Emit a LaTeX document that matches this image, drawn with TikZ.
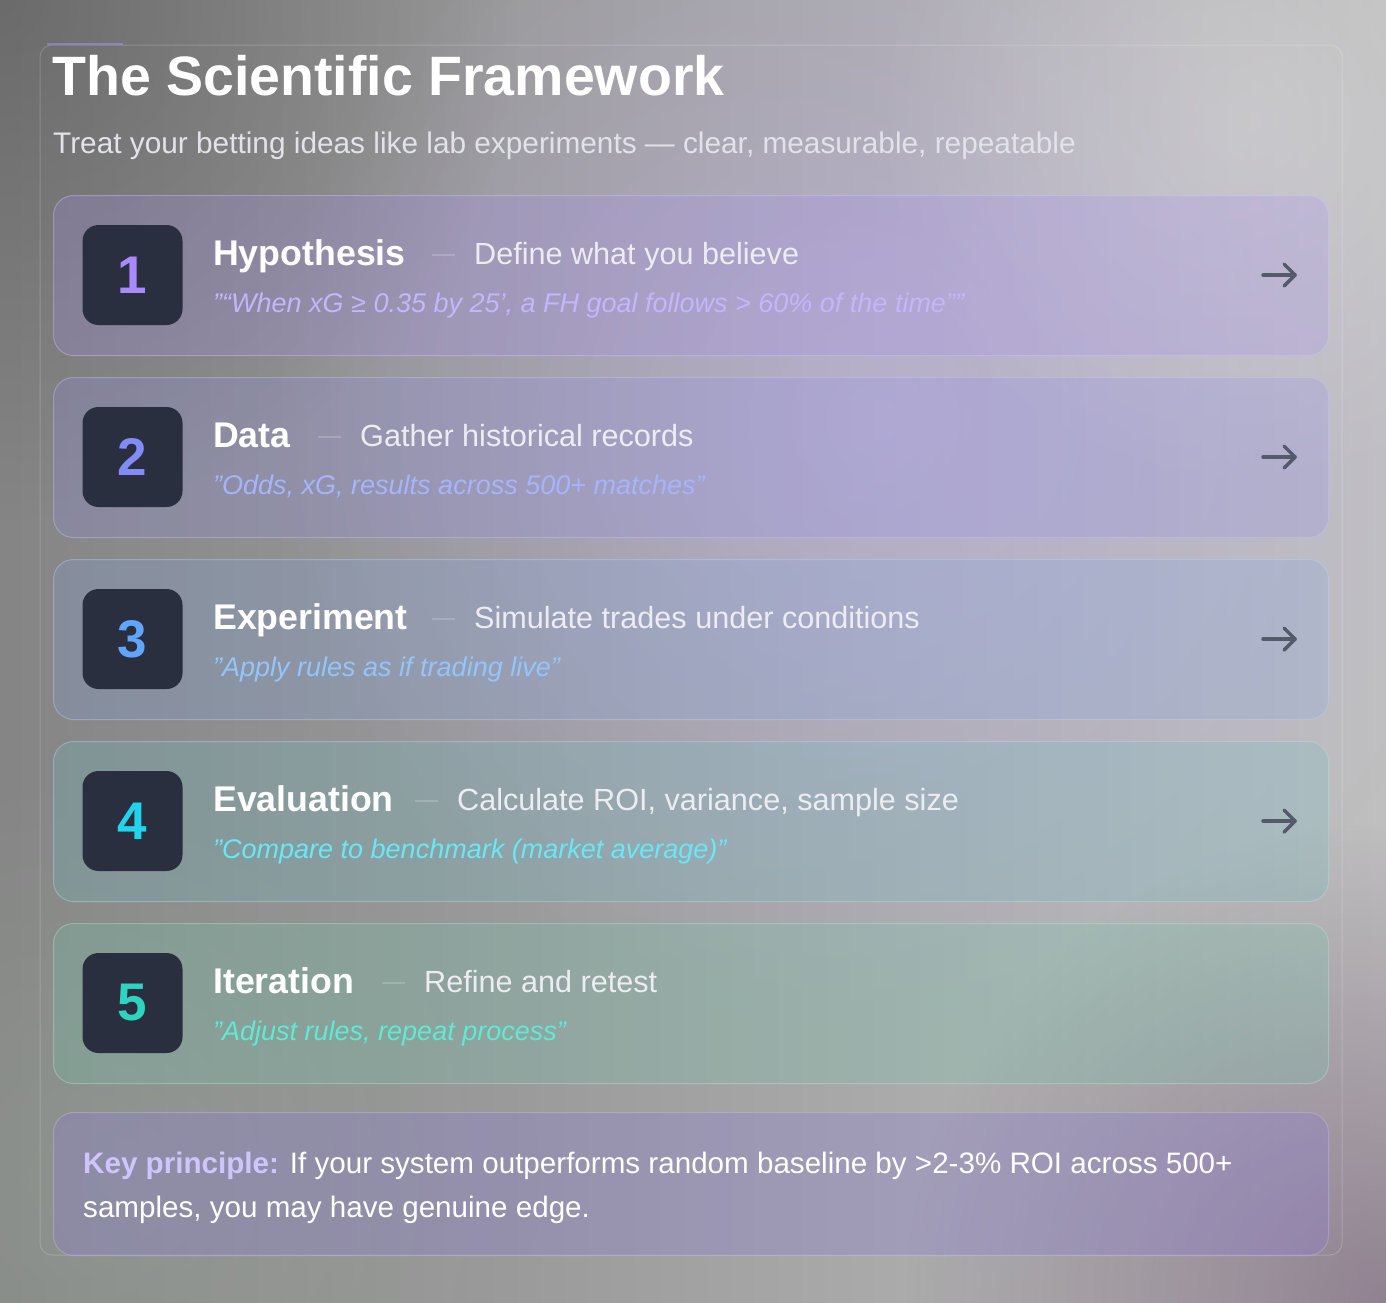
\documentclass[tikz,border=0pt]{standalone}
\usepackage{fontspec}
\setmainfont{Liberation Sans}
\usetikzlibrary{fadings}
\tikzfading[name=radfade, inner color=transparent!0, outer color=transparent!100]
\definecolor{cNum1}{HTML}{A78BFA}
\definecolor{cNum2}{HTML}{818CF8}
\definecolor{cNum3}{HTML}{60A5FA}
\definecolor{cNum4}{HTML}{22D3EE}
\definecolor{cNum5}{HTML}{2DD4BF}
\definecolor{cQ1}{HTML}{C4B5FD}
\definecolor{cQ2}{HTML}{A5B4FC}
\definecolor{cQ3}{HTML}{93C5FD}
\definecolor{cQ4}{HTML}{67E8F9}
\definecolor{cQ5}{HTML}{5EEAD4}
\definecolor{cCard1}{HTML}{A78BFA}
\definecolor{cCard2}{HTML}{8F8CF0}
\definecolor{cCard3}{HTML}{7FA6E8}
\definecolor{cCard4}{HTML}{6CC0C8}
\definecolor{cCard5}{HTML}{6CCDB0}
\definecolor{cKey}{HTML}{8B7BD8}
\definecolor{cBox}{HTML}{2A2F40}
\definecolor{cArrow}{HTML}{535B6B}
\definecolor{cSub}{HTML}{E2E2EA}
\definecolor{cDesc}{HTML}{ECECF2}
\begin{document}
\begin{tikzpicture}[x=1pt,y=-1pt,
  cardbox/.style={draw=#1!50!white, draw opacity=0.4, fill=#1, fill opacity=0.22,
    rounded corners=20pt, line width=1pt, minimum width=1275pt, anchor=north west, inner sep=0pt},
  numbox/.style={fill=cBox, rounded corners=16pt, minimum width=100pt, minimum height=100pt,
    inner sep=0pt, font=\bfseries\fontsize{53}{53}\selectfont},
  steptitle/.style={anchor=base west, inner sep=0pt, text=white, font=\bfseries\fontsize{35.7}{36}\selectfont},
  stepdesc/.style={anchor=base west, inner sep=0pt, text=cDesc, font=\fontsize{30.6}{31}\selectfont},
  stepquote/.style={anchor=base west, inner sep=0pt, font=\itshape\fontsize{27}{27}\selectfont},
  sepline/.style={draw=white, draw opacity=0.18, line width=1.5pt},
  arrowicon/.style={draw=cArrow, line width=3.5pt, line cap=round, line join=round},
  keytext/.style={anchor=base west, inner sep=0pt, text=white, font=\fontsize{29.6}{30}\selectfont}
]
\useasboundingbox (0,0) rectangle (1386,1302);
% background
\shade[left color=black!48!white, right color=black!25!white] (0,0) rectangle (1386,1302);
\fill[color=black!70, opacity=0.45, path fading=radfade, fit fading=true] (0,0) circle (520);
\fill[color=cNum1!60!white, opacity=0.42, path fading=radfade, fit fading=true] (880,420) circle (620);
\fill[color=black!15!white, opacity=0.45, path fading=radfade, fit fading=true] (1250,120) circle (380);
\fill[color=green!12!black!40!white, opacity=0.45, path fading=radfade, fit fading=true] (120,1180) circle (420);
\fill[color=violet!30!black!65, opacity=0.6, path fading=radfade, fit fading=true] (1386,1302) circle (480);
% outer frame
\draw[draw=white, draw opacity=0.18, line width=1pt, rounded corners=12pt] (40,45) rectangle (1342,1255);
\draw[draw=cNum1, draw opacity=0.55, line width=2.5pt] (47,44) -- (123,44);
% heading
\node[anchor=base west, inner sep=0pt, text=white, font=\bfseries\fontsize{55.5}{56}\selectfont] (head) at (52,95) {The Scientific Framework};
\node[anchor=base west, inner sep=0pt, text=cSub, font=\fontsize{29.8}{30}\selectfont] (sub) at (53,153) {Treat your betting ideas like lab experiments — clear, measurable, repeatable};
% steps
\foreach \i/\t/\dx/\d/\q in {
  1/Hypothesis/474/{Define what you believe}/{"“When xG ≥ 0.35 by 25', a FH goal follows > 60\% of the time”"},
  2/Data/360/{Gather historical records}/{"Odds, xG, results across 500+ matches"},
  3/Experiment/474/{Simulate trades under conditions}/{"Apply rules as if trading live"},
  4/Evaluation/457/{Calculate ROI, variance, sample size}/{"Compare to benchmark (market average)"},
  5/Iteration/424/{Refine and retest}/{"Adjust rules, repeat process"}}{
  \pgfmathsetmacro{\yy}{195+182*(\i-1)}
  \node[cardbox=cCard\i, minimum height=160pt] (card\i) at (53,\yy) {};
  \node[numbox, text=cNum\i] (num\i) at (132.5,\yy+80) {\i};
  \node[steptitle] (title\i) at (213,\yy+70) {\t};
  \draw[sepline] (\dx-42,\yy+60) -- (\dx-19,\yy+60);
  \node[stepdesc] (desc\i) at (\dx,\yy+69) {\d};
  \node[stepquote, text=cQ\i] (quote\i) at (213,\yy+117) {\q};
  \ifnum\i<5
    \coordinate (arr\i) at (1279,\yy+80);
    \draw[arrowicon] (1263,\yy+80) -- (1295,\yy+80);
    \draw[arrowicon] (1284,\yy+69) -- (1295,\yy+80) -- (1284,\yy+91);
  \fi
}
% key principle
\node[cardbox=cKey, minimum height=143pt, fill opacity=0.3] (key) at (53,1112) {};
\node[keytext] (keyl1) at (83,1173) {\textcolor{cQ1!80!white}{\bfseries Key principle:} If your system outperforms random baseline by >2-3\% ROI across 500+};
\node[keytext] (keyl2) at (83,1217) {samples, you may have genuine edge.};
\end{tikzpicture}
\end{document}
